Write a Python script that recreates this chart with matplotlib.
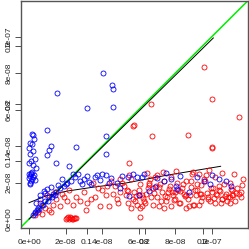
import matplotlib
matplotlib.use("Agg")
import matplotlib.pyplot as plt

# values in units of 1e-8
blue_x = [0.97, 0.24, 0.29, 0.02, 1.20, 1.10, 0.22, 0.05, 1.48, 2.20, 0.20, 4.22, 4.20,
          4.05, 4.55, 4.60, 1.55, 3.18, 4.60, 0.10, 0.35, 0.15, 1.00, 2.60, 0.40,
          0.05, 0.10, 0.15, 0.20, 0.00, 0.12, 0.25, 0.08, 0.18, 0.30,
          0.50, 0.70, 0.90, 1.10, 1.30, 1.50, 1.70, 1.90, 2.10, 2.30, 0.60, 0.80, 1.20,
          0.40, 0.60, 0.90, 1.40, 1.60, 0.30, 0.20, 1.00, 1.80, 2.50, 2.00,
          2.80, 3.00, 3.30, 3.60, 3.90, 4.20, 4.50, 4.80, 5.10, 5.40, 5.90, 6.20,
          6.60, 6.90, 7.00, 7.40, 7.80, 8.05, 8.10, 8.30, 8.77, 9.20, 9.60, 10.0,
          10.4, 11.07, 5.50, 6.00, 2.40, 3.40, 4.00, 4.40, 5.00, 3.70, 2.90, 6.30,
          7.50, 9.90, 10.8, 0.02, 0.06, 0.10, 0.04, 0.14, 0.00, 0.30, 0.55, 0.75,
          1.05, 1.25, 0.45, 2.70, 3.20, 5.70]
blue_y = [4.91, 4.62, 4.40, 3.88, 4.00, 3.80, 3.74, 3.57, 3.08, 2.90, 2.97, 4.54, 3.55,
          8.00, 7.36, 7.14, 6.92, 6.10, 6.15, 3.20, 3.30, 4.10, 3.50, 3.95, 2.80,
          2.00, 2.10, 2.20, 2.30, 2.45, 2.55, 2.40, 1.90, 2.60, 2.15,
          0.60, 0.80, 1.00, 1.20, 1.40, 1.50, 1.70, 1.80, 2.00, 2.10, 1.30, 1.55, 1.75,
          0.90, 1.10, 1.45, 1.30, 1.85, 0.40, 0.20, 1.65, 2.20, 2.30, 1.90,
          2.10, 2.20, 2.05, 2.30, 2.15, 2.40, 2.25, 2.00, 2.35, 2.30, 2.30, 2.30,
          1.54, 1.76, 2.25, 2.10, 2.20, 1.80, 1.65, 2.36, 1.48, 2.30, 2.10, 2.40,
          2.20, 1.80, 1.26, 1.30, 2.45, 1.90, 2.50, 2.00, 1.70, 2.40, 1.95, 2.50,
          2.55, 1.90, 2.10, 2.25, 2.35, 2.48, 4.20, 4.70, 3.10, 0.35, 0.55, 0.75,
          1.00, 1.20, 0.50, 2.45, 2.35, 2.45]

red_x = [0.30, 0.50, 0.70, 0.90, 1.10, 1.30, 1.50, 1.70, 1.90, 2.10, 0.60, 1.00, 1.40,
         1.80, 2.20, 2.60, 3.00, 3.40, 3.80, 4.20, 4.60, 2.40, 2.80, 3.20, 3.60, 4.00,
         4.40, 4.80, 2.00, 2.10, 2.20, 2.30, 2.40, 2.50, 2.15, 2.35, 2.55, 2.25, 2.45,
         3.50, 4.50, 5.20, 5.40, 5.60, 5.80, 6.00, 6.20, 6.40, 6.60, 6.80, 7.00, 7.20,
         7.40, 7.60, 7.80, 8.00, 8.20, 8.40, 8.60, 8.80, 9.00, 9.20, 9.40, 9.60, 9.80,
         10.0, 10.2, 10.4, 10.6, 10.8, 11.0, 11.2, 11.4, 11.6, 5.30, 5.50, 5.70, 5.90,
         6.10, 6.30, 6.50, 6.70, 6.90, 7.10, 7.30, 7.50, 7.70, 7.90, 8.10, 8.30, 8.50,
         8.70, 8.90, 9.10, 9.30, 9.50, 9.70, 9.90, 10.1, 10.3, 10.5, 10.7, 10.9, 11.1,
         11.3, 11.5, 5.00, 5.60, 6.20, 6.80, 7.40, 8.00, 8.60, 9.20, 9.80, 10.4, 11.0,
         5.10, 5.75, 6.35, 6.95, 7.55, 8.15, 8.75, 9.35, 9.95, 10.55, 11.15, 11.7,
         4.70, 4.90, 5.35, 6.05, 6.65, 7.25, 7.85, 8.45, 9.05, 9.65, 10.25, 10.85,
         3.10, 3.90, 4.30, 5.00, 6.10, 7.00, 7.80, 8.60, 9.40, 10.2, 11.0, 11.6,
         6.74, 8.70, 10.0, 10.05, 5.50, 5.70, 5.75, 6.70, 9.60, 10.0, 11.5, 6.10, 1.20,
         5.45, 5.85, 6.25, 6.55, 6.85, 7.15, 7.45, 7.65, 7.95, 8.25, 8.55, 8.85, 9.15,
         9.45, 9.75, 10.15, 10.45, 10.75, 11.05, 11.35, 11.65, 9.00, 9.30, 9.85, 10.6,
         11.25, 6.45, 7.35, 8.05, 8.95]
red_y = [0.20, 0.40, 0.30, 0.60, 0.50, 0.80, 1.10, 0.70, 1.20, 1.00, 0.90, 1.30, 1.50,
         1.40, 1.60, 1.20, 1.50, 1.10, 1.70, 1.30, 1.40, 0.80, 1.00, 0.90, 1.20, 1.60,
         0.70, 1.10, 0.02, 0.05, 0.00, 0.08, 0.03, 0.06, 0.10, 0.01, 0.04, 0.12, 0.07,
         2.00, 2.10, 1.80, 0.90, 2.20, 1.00, 1.60, 0.70, 1.40, 2.00, 0.80, 1.20, 1.90,
         0.60, 1.50, 2.30, 1.10, 0.90, 1.70, 2.10, 1.30, 0.80, 1.60, 1.00, 2.20, 1.20,
         1.50, 0.90, 1.80, 1.10, 1.40, 2.00, 1.30, 1.70, 1.50, 1.30, 2.40, 1.10, 0.80,
         1.90, 1.00, 1.70, 1.20, 2.30, 0.70, 1.50, 1.00, 1.80, 1.30, 2.00, 0.90, 1.40,
         1.10, 2.10, 1.60, 0.80, 1.20, 2.40, 1.00, 1.70, 1.30, 0.90, 1.90, 1.20, 1.60,
         1.00, 1.40, 1.50, 0.60, 1.30, 1.70, 2.10, 1.50, 1.30, 1.90, 1.10, 1.60, 1.20,
         2.00, 1.50, 0.90, 1.80, 1.20, 1.60, 0.70, 1.40, 1.70, 1.10, 1.30, 2.20,
         1.80, 0.90, 1.60, 1.30, 2.20, 1.00, 1.50, 1.90, 0.80, 2.10, 1.40, 1.00,
         0.50, 0.70, 1.80, 2.20, 0.60, 2.40, 0.70, 0.60, 1.40, 2.30, 0.90, 1.20,
         4.56, 4.60, 3.90, 3.95, 3.08, 5.10, 5.16, 6.30, 8.35, 6.60, 5.60, 0.10, 0.40,
         1.55, 1.25, 1.15, 1.85, 1.45, 1.75, 1.25, 1.65, 1.05, 1.55, 1.25, 1.75, 1.35,
         1.85, 1.45, 1.15, 1.55, 1.25, 1.65, 1.45, 1.85, 2.60, 2.50, 2.70, 2.55,
         2.50, 2.55, 2.60, 2.65, 2.45]

# fitted lines (1e-8 units)
fit1_x = [0.0, 10.1]
fit1_y = [0.0, 9.95]
fit2_x = [0.0, 1.0, 2.1, 3.5, 5.3, 7.5, 10.5]
fit2_y = [0.9, 1.3, 1.54, 1.75, 1.98, 2.4, 2.9]

xticks1 = [0, 2e-8, 4e-8, 6e-8, 8e-8, 1e-7]
xlabels1 = ["0e+00", "2e-08", "4e-08", "6e-08", "8e-08", "1e-07"]
ticks2 = [0, 3.17e-8, 6.34e-8, 9.51e-8]
labels2 = ["0.0", "0.1", "0.2", "0.3"]

S = 1e-8

fig = plt.figure(figsize=(2.49, 2.49), dpi=100)
ax = fig.add_axes([21 / 249, 21 / 249, 227 / 249, 227 / 249])

ax.axline((0, 0), slope=1, color="#00ee00", lw=1.1, zorder=1)
ax.plot([v * S for v in fit1_x], [v * S for v in fit1_y], color="black", lw=0.7, zorder=2)
ax.plot([v * S for v in fit2_x], [v * S for v in fit2_y], color="black", lw=0.7, zorder=2)

ax.plot([v * S for v in red_x], [v * S for v in red_y], "o", mfc="none", mec="red",
        ms=3.6, mew=0.6, zorder=3)
ax.plot([v * S for v in blue_x], [v * S for v in blue_y], "o", mfc="none", mec="blue",
        ms=3.6, mew=0.6, zorder=4)

ax.set_xlim(-0.44e-8, 12.0e-8)
ax.set_ylim(-0.49e-8, 11.98e-8)

for a in (ax.xaxis, ax.yaxis):
    a.set_ticks(xticks1, xlabels1)
    a.set_ticks(ticks2, labels2, minor=True)
for lab in ax.get_yticklabels(which="both"):
    lab.set_rotation(90)
    lab.set_va("center")

ax.tick_params(which="both", length=4, width=0.6, color="#333333", labelsize=6,
               pad=2, labelcolor="#222222")
ax.tick_params(axis="x", which="both", pad=4)
for lab in ax.get_xticklabels(which="both") + ax.get_yticklabels(which="both"):
    lab.set_fontfamily("Liberation Sans")
for s in ax.spines.values():
    s.set_color("#555555")
    s.set_linewidth(1.0)

fig.savefig("out.png", dpi=100)
